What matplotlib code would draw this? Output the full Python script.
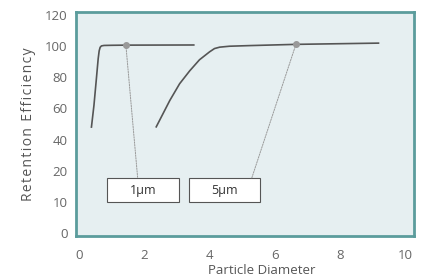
import numpy as np
import matplotlib
matplotlib.use('Agg')
import matplotlib.pyplot as plt
from matplotlib.patches import Rectangle

# curve for the 1um filter
x1 = [0.37, 0.45, 0.52, 0.58, 0.61, 0.64, 0.68, 0.76, 1.0, 1.43, 3.54]
y1 = [47.5, 62, 78, 92, 97, 99.3, 100.2, 100.5, 100.6, 100.7, 100.8]
# curve for the 5um filter
x2 = [2.35, 2.78, 3.08, 3.39, 3.69, 4.0, 4.15, 4.31, 4.61, 5.22, 6.65, 9.21]
y2 = [47.7, 65.2, 75.9, 84.2, 91.3, 96.4, 98.5, 99.4, 100, 100.4, 101.2, 102]
# marked points and their labels
mark_x = [1.43, 6.65]
mark_y = [100.7, 101.2]
labels = ['1\u00b5m', '5\u00b5m']
# box left/right edges and line ends (axes fraction)
box_left = [0.093, 0.335]
box_right = [0.305, 0.546]
line_end = [0.1825, 0.52]

yticks = [0, 10, 20, 40, 60, 80, 100, 120]
xticks = [0, 2, 4, 6, 8, 10]


def fwd(v):
    v = np.asarray(v, dtype=float)
    return np.where(v <= 20, v / 10.0, 2 + (v - 20) / 20.0)


def inv(u):
    u = np.asarray(u, dtype=float)
    return np.where(u <= 2, u * 10.0, 20 + (u - 2) * 20.0)


def spaced(s):
    return '\u200a'.join(s)


plt.rcParams['font.family'] = ['Open Sans', 'DejaVu Sans']

fig = plt.figure(figsize=(4.32, 2.79), dpi=100)
ax = fig.add_axes([0.176, 0.154, 0.782, 0.803])
ax.set_facecolor('#e6eff1')
ax.set_yscale('function', functions=(fwd, inv))
ax.set_xlim(-0.1, 10.27)
ax.set_ylim(-1, 122)

ax.plot(x1, y1, color='#555555', lw=1.2, solid_capstyle='butt')
ax.plot(x2, y2, color='#555555', lw=1.2, solid_capstyle='butt')
ax.plot(mark_x, mark_y, 'o', color='#999999', ms=4, zorder=4)

box_bot, box_top = 0.150, 0.258
for i in range(len(labels)):
    ax.add_patch(Rectangle((box_left[i], box_bot), box_right[i] - box_left[i],
                           box_top - box_bot, transform=ax.transAxes,
                           facecolor='white', edgecolor='#555555', lw=0.8, zorder=3))
    ax.text((box_left[i] + box_right[i]) / 2, (box_bot + box_top) / 2, labels[i],
            transform=ax.transAxes, ha='center', va='center', fontsize=9,
            color='#333333', zorder=4)
    ax.annotate('', xy=(line_end[i], box_top), xycoords='axes fraction',
                xytext=(mark_x[i], mark_y[i]), textcoords='data',
                arrowprops=dict(arrowstyle='-', color='#999999', lw=0.7,
                                linestyle=(0, (1.5, 1.2)), shrinkA=0, shrinkB=0))

ax.set_yticks(yticks)
ax.set_yticklabels([str(t) for t in yticks])
ax.yaxis.set_minor_locator(matplotlib.ticker.NullLocator())
ax.set_xticks(xticks)
ax.tick_params(length=0, labelsize=9.5, colors='#666666')
ax.tick_params(axis='x', pad=9)
ax.tick_params(axis='y', pad=6)

for s in ax.spines.values():
    s.set_color('#5b9c9c')
    s.set_linewidth(2)

fig.text(262 / 432, 1 - 270 / 279, 'Particle Diameter', fontsize=9.5,
         color='#555555', ha='center', va='center')
fig.text(28 / 432, 1 - 124 / 279, spaced('Retention Efficiency'), fontsize=10,
         color='#555555', ha='center', va='center', rotation=90)

fig.savefig('out.png', dpi=100)
